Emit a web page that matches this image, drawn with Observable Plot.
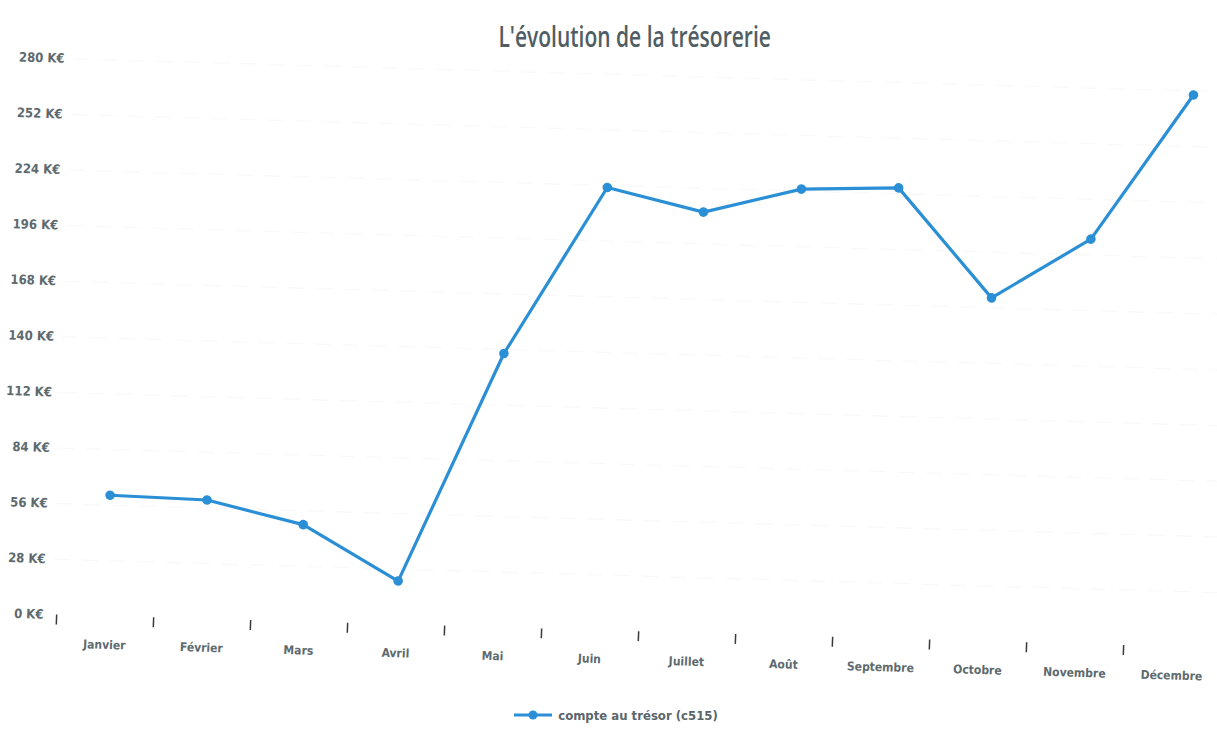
<!DOCTYPE html>
<html>
<head>
<meta charset="utf-8">
<script src="https://cdn.jsdelivr.net/npm/d3@7"></script>
<script src="https://cdn.jsdelivr.net/npm/@observablehq/plot@0.6"></script>
<style>
  html, body { margin: 0; padding: 0; background: #ffffff; }
  body { width: 1217px; height: 730px; overflow: hidden; position: relative; }
  #title {
    position: absolute; left: 0; top: 0; width: 1217px; height: 50px;
    text-align: center; font-family: "Open Sans", "Noto Sans", sans-serif;
    font-size: 28px; font-weight: 600; line-height: 30px; color: #505e64;
  }
  #title span { display: inline-block; transform: scaleX(0.75); transform-origin: 50% 50%; margin-top: 21px; margin-left: 52px; }
  #chart { position: absolute; left: 0; top: 50px; }
  #chart svg { overflow: visible; transform-origin: 40px 564px; transform: matrix(1, 0.0287, -0.038, 1, 0, 0); }
  #legend {
    position: absolute; left: 0; top: 703px; width: 1217px; height: 24px;
    display: flex; justify-content: center; align-items: center; gap: 4px;
    font-family: "Liberation Sans Narrow", "DejaVu Sans Condensed", sans-serif;
    font-weight: bold; font-size: 13px; color: #5a666b;
  }
  #legend .inner { margin-left: 14px; display: flex; align-items: center; gap: 5px; }
</style>
</head>
<body>
<div id="title"><span>L'évolution de la trésorerie</span></div>
<div id="chart"></div>
<div id="legend"><div class="inner"><svg width="40" height="12"><line x1="1" y1="6" x2="39" y2="6" stroke="#2b8fd6" stroke-width="3"/><circle cx="20" cy="6" r="4.5" fill="#2b8fd6"/></svg><span>compte au trésor (c515)</span></div></div>
<script>
const months = ["Janvier","Février","Mars","Avril","Mai","Juin","Juillet","Août","Septembre","Octobre","Novembre","Décembre"];
const values = [61, 60, 49, 22, 138, 223, 212, 225, 227, 173, 204, 278];
const yTicks = [0, 28, 56, 84, 112, 140, 168, 196, 224, 252, 280];
const seriesName = "compte au trésor (c515)";

const data = months.map((m, i) => ({month: m, value: values[i]}));
const xRange = [52, 1224];
const step = (xRange[1] - xRange[0]) / months.length;
const blue = "#2b8fd6";
const grey = "#5e6a6e";

const chart = Plot.plot({
  width: 1217,
  height: 624,
  marginTop: 8,
  marginBottom: 60,
  marginLeft: 52,
  marginRight: 0,
  style: {
    fontFamily: '"Liberation Sans Narrow", "DejaVu Sans Condensed", sans-serif',
    fontWeight: "bold",
    fontSize: "13px",
    color: grey,
    background: "transparent"
  },
  x: {type: "point", domain: months, range: xRange, padding: 0.5},
  y: {domain: [0, 280], ticks: yTicks},
  marks: [
    Plot.gridY(yTicks.slice(1), {stroke: "#eeeeee", strokeOpacity: 0.45, strokeDasharray: "16,12"}),
    Plot.axisY({ticks: yTicks, tickSize: 0, tickPadding: 9, tickFormat: d => `${d} K€`, label: null}),
    Plot.axisX({tickSize: 0, tickPadding: 24, label: null, fontSize: 12}),
    Plot.ruleX(months, {x: d => d, dx: -step / 2, y1: 0, y2: -5, stroke: "#3a3a3a", strokeWidth: 1.5}),
    Plot.line(data, {x: "month", y: "value", stroke: blue, strokeWidth: 3.2}),
    Plot.dot(data, {x: "month", y: "value", r: 4.8, fill: blue, stroke: "none", title: d => `${d.month}: ${d.value} K€ (${seriesName})`})
  ]
});
document.getElementById("chart").appendChild(chart);
</script>
</body>
</html>
